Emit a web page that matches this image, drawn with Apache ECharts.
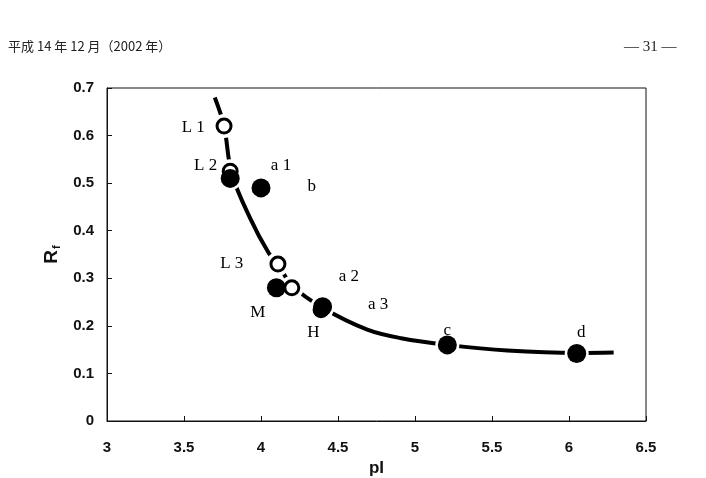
<!DOCTYPE html>
<html lang="ja">
  <head>
    <meta charset="UTF-8" />
    <title>Rf - pI</title>
    <script src="https://cdn.jsdelivr.net/npm/echarts@6/dist/echarts.min.js"></script>
  </head>
  <body style="margin: 0; background: #fff">
    <div id="main" style="width: 706px; height: 478px"></div>
    <script>
      // pI / Rf values
      const openPoints = [
        [3.76, 0.62],
        [3.8, 0.525],
        [4.11, 0.33],
        [4.2, 0.28],
        [4.39, 0.234],
      ];
      const filledPoints = [
        [3.8, 0.51],
        [4.0, 0.49],
        [4.1, 0.28],
        [4.4, 0.24],
        [5.21, 0.16],
        [6.05, 0.142],
      ];
      const curvePoints = [
        [3.7, 0.68],
        [3.76, 0.62],
        [3.81, 0.52],
        [3.93, 0.426],
        [4.05, 0.353],
        [4.11, 0.33],
        [4.2, 0.285],
        [4.4, 0.238],
        [4.69, 0.192],
        [4.91, 0.174],
        [5.21, 0.16],
        [5.6, 0.148],
        [6.06, 0.143],
        [6.29, 0.144],
      ];
      const pointLabels = [
        [3.56, 0.616, 'L 1'],
        [3.64, 0.538, 'L 2'],
        [4.13, 0.538, 'a 1'],
        [4.33, 0.492, 'b'],
        [3.81, 0.33, 'L 3'],
        [4.57, 0.303, 'a 2'],
        [3.98, 0.229, 'M'],
        [4.76, 0.244, 'a 3'],
        [4.34, 0.187, 'H'],
        [5.21, 0.191, 'c'],
        [6.08, 0.185, 'd'],
      ];
      const xTicks = [3, 3.5, 4, 4.5, 5, 5.5, 6, 6.5];
      const yTicks = [0, 0.1, 0.2, 0.3, 0.4, 0.5, 0.6, 0.7];

      const serif = '"Liberation Serif", "DejaVu Serif", serif';
      const sans = '"Liberation Sans", Arial, sans-serif';

      let myCharts = echarts.init(document.getElementById('main'));
      let option = {
        animation: false,
        backgroundColor: '#fff',
        graphic: [
          {
            type: 'text',
            left: 8,
            top: 40,
            style: {
              text: '平成 14 年 12 月（2002 年）',
              font: '13px "Noto Sans CJK JP", ' + serif,
              fill: '#222',
            },
          },
          {
            type: 'text',
            left: 624,
            top: 40,
            style: {
              text: '— 31 —',
              font: '15px ' + serif,
              fill: '#222',
            },
          },
        ],
        grid: {
          left: 107,
          right: 60,
          top: 88,
          bottom: 57,
          outerBoundsMode: 'none',
          containLabel: false,
          show: true,
          borderColor: '#111',
          borderWidth: 1,
        },
        xAxis: {
          type: 'value',
          min: xTicks[0],
          max: xTicks[xTicks.length - 1],
          interval: 0.5,
          name: 'pI',
          nameLocation: 'middle',
          nameGap: 39,
          nameTextStyle: { fontFamily: sans, fontWeight: 'bold', fontSize: 17, color: '#111' },
          axisLine: { lineStyle: { color: '#111', width: 1 } },
          axisTick: { inside: true, length: 5, lineStyle: { color: '#111' } },
          axisLabel: {
            margin: 19,
            fontFamily: sans,
            fontWeight: 'bold',
            fontSize: 15,
            color: '#111',
          },
          splitLine: { show: false },
        },
        yAxis: {
          type: 'value',
          min: yTicks[0],
          max: yTicks[yTicks.length - 1],
          interval: 0.1,
          name: '{r|R}{s|f}',
          nameLocation: 'middle',
          nameRotate: 90,
          nameGap: 34,
          nameTextStyle: {
            rich: {
              r: { fontFamily: sans, fontWeight: 'bold', fontSize: 19, color: '#111' },
              s: {
                fontFamily: sans,
                fontWeight: 'bold',
                fontSize: 11,
                color: '#111',
                padding: [9, 0, 0, 1],
              },
            },
          },
          axisLine: { show: true, lineStyle: { color: '#111', width: 1 } },
          axisTick: { show: true, inside: true, length: 5, lineStyle: { color: '#111' } },
          axisLabel: {
            margin: 13,
            fontFamily: sans,
            fontWeight: 'bold',
            fontSize: 15,
            color: '#111',
            formatter: (v) => String(Math.round(v * 10) / 10),
          },
          splitLine: { show: false },
        },
        series: [
          {
            type: 'line',
            data: curvePoints,
            smooth: 0.35,
            symbol: 'none',
            lineStyle: { color: '#000', width: 4 },
            z: 1,
          },
          // white halo so the curve breaks around each circle
          {
            type: 'scatter',
            data: openPoints.concat(filledPoints),
            symbolSize: 24,
            itemStyle: { color: '#fff', opacity: 1 },
            z: 2,
            silent: true,
          },
          {
            type: 'scatter',
            data: openPoints,
            symbolSize: 14,
            itemStyle: { color: '#fff', borderColor: '#000', borderWidth: 3, opacity: 1 },
            z: 3,
          },
          {
            type: 'scatter',
            data: filledPoints,
            symbolSize: 19,
            itemStyle: { color: '#000', opacity: 1 },
            z: 4,
          },
          {
            type: 'scatter',
            data: pointLabels,
            symbolSize: 0,
            z: 5,
            itemStyle: { opacity: 1 },
            label: {
              show: true,
              position: 'inside',
              formatter: (p) => p.data[2],
              fontFamily: serif,
              fontSize: 17,
              color: '#000',
            },
          },
        ],
      };
      myCharts.setOption(option);
    </script>
  </body>
</html>
